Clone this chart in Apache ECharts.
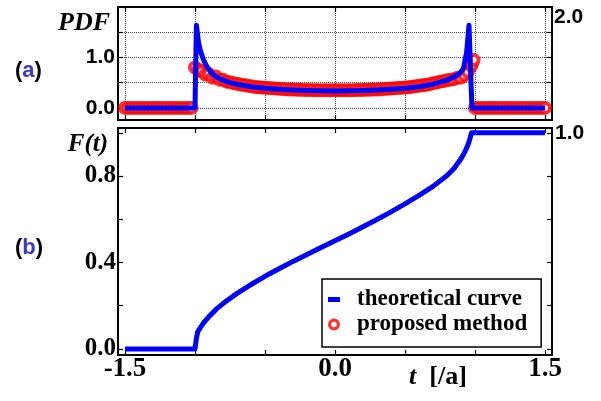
<!DOCTYPE html>
<html>
<head>
<meta charset="utf-8">
<script src="https://cdn.jsdelivr.net/npm/echarts@6/dist/echarts.min.js"></script>
<style>
  html, body { margin: 0; padding: 0; background: #fff; }
  #chart { width: 601px; height: 401px; }
</style>
</head>
<body>
<div id="chart"></div>
<script>
  // (a) theoretical PDF
  const pdfT = [-1.5, -1.0, -0.99, -0.975, -0.96, -0.94, -0.92, -0.9, -0.875, -0.85, -0.8, -0.75, -0.7, -0.6, -0.5, -0.4, -0.3, -0.2, -0.1, 0,
    0.1, 0.2, 0.3, 0.4, 0.5, 0.6, 0.7, 0.75, 0.8, 0.85, 0.893, 0.917, 0.94, 0.957, 0.978, 1.5];
  const pdfV = [0, 0, 1.64, 1.30, 1.12, 0.96, 0.84, 0.76, 0.67, 0.62, 0.55, 0.50, 0.47, 0.42, 0.39, 0.37, 0.355, 0.345, 0.34, 0.335,
    0.34, 0.345, 0.355, 0.37, 0.39, 0.42, 0.47, 0.51, 0.55, 0.61, 0.69, 0.78, 1.10, 1.64, 0, 0];

  // (a) proposed method points
  const estT = [-1.5, -1.475, -1.45, -1.425, -1.4, -1.375, -1.35, -1.325, -1.3, -1.275, -1.25, -1.225, -1.2, -1.175, -1.15, -1.125, -1.1, -1.075, -1.05, -1.025,
    -1.0, -0.975, -0.95, -0.925, -0.9, -0.875, -0.85, -0.825, -0.8, -0.775, -0.75, -0.725, -0.7, -0.675, -0.65, -0.625, -0.6, -0.575, -0.55, -0.525,
    -0.5, -0.475, -0.45, -0.425, -0.4, -0.375, -0.35, -0.325, -0.3, -0.275, -0.25, -0.225, -0.2, -0.175, -0.15, -0.125, -0.1, -0.075, -0.05, -0.025,
    0, 0.025, 0.05, 0.075, 0.1, 0.125, 0.15, 0.175, 0.2, 0.225, 0.25, 0.275, 0.3, 0.325, 0.35, 0.375, 0.4, 0.425, 0.45, 0.475,
    0.5, 0.525, 0.55, 0.575, 0.6, 0.625, 0.65, 0.675, 0.7, 0.725, 0.75, 0.775, 0.8, 0.825, 0.85, 0.875, 0.9, 0.925, 0.95, 0.975, 0.99,
    1.0, 1.025, 1.05, 1.075, 1.1, 1.125, 1.15, 1.175, 1.2, 1.225, 1.25, 1.275, 1.3, 1.325, 1.35, 1.375, 1.4, 1.425, 1.45, 1.475, 1.5];
  const estV = [0, 0, 0, 0, 0, 0, 0, 0, 0, 0, 0, 0, 0, 0, 0, 0, 0, 0, 0, 0,
    0.80, 0.75, 0.72, 0.66, 0.67, 0.60, 0.62, 0.56, 0.56, 0.52, 0.51, 0.49, 0.48, 0.465, 0.455, 0.44, 0.43, 0.42, 0.41, 0.405,
    0.40, 0.395, 0.39, 0.385, 0.38, 0.375, 0.37, 0.365, 0.365, 0.36, 0.36, 0.355, 0.355, 0.355, 0.35, 0.35, 0.35, 0.35, 0.35, 0.35,
    0.35, 0.35, 0.35, 0.35, 0.35, 0.35, 0.355, 0.355, 0.355, 0.36, 0.36, 0.365, 0.365, 0.37, 0.375, 0.38, 0.385, 0.39, 0.395, 0.40,
    0.405, 0.41, 0.42, 0.43, 0.44, 0.45, 0.46, 0.47, 0.49, 0.50, 0.52, 0.53, 0.55, 0.56, 0.57, 0.60, 0.60, 0.65, 0.72, 0.84, 0.95,
    0, 0, 0, 0, 0, 0, 0, 0, 0, 0, 0, 0, 0, 0, 0, 0, 0, 0, 0, 0, 0];

  // (b) F(t)
  const cdfT = [-1.5, -1.0, -0.99, -0.98, -0.96, -0.94, -0.9, -0.85, -0.8, -0.7, -0.6, -0.5, -0.4, -0.3, -0.2, -0.1, 0,
    0.1, 0.2, 0.3, 0.4, 0.5, 0.6, 0.7, 0.8, 0.85, 0.9, 0.93, 0.95, 0.965, 0.975, 1.5];
  const cdfV = [0, 0, 0.05, 0.08, 0.10, 0.12, 0.15, 0.183, 0.21, 0.257, 0.298, 0.336, 0.371, 0.405, 0.437, 0.469, 0.50,
    0.532, 0.565, 0.599, 0.634, 0.671, 0.710, 0.752, 0.802, 0.835, 0.88, 0.915, 0.945, 0.975, 1.0, 1.0];

  // ticks and labels
  const tTicks = [-1.5, -1.0, -0.5, 0, 0.5, 1.0, 1.5];
  const tLabels = [-1.5, 0, 1.5];
  const pdfTicks = [0, 0.5, 1.0, 1.5];
  const pdfLabels = [0, 1.0];
  const pdfRightLabels = [2.0];
  const cdfTicks = [0, 0.2, 0.4, 0.6, 0.8, 1.0];
  const cdfLabels = [0, 0.4, 0.8];
  const cdfRightLabels = [1.0];

  const zip = (a, b) => a.map((x, i) => [x, b[i]]);
  const fmt = v => Number(v).toFixed(1);
  const serif = '"Liberation Serif", "DejaVu Serif", serif';
  const sans = '"Liberation Sans", Arial, sans-serif';

  const tick = vals => ({ show: true, inside: true, length: 5, customValues: vals, lineStyle: { color: '#000', width: 1.2 } });
  const dotted = { show: true, lineStyle: { type: 'dotted', color: '#444', width: 1 } };
  const noLabel = { show: false };
  const noLine = { show: false, onZero: false };
  // ring icon for the legend
  const ringIcon = 'path://M6,0.5A5.5,5.5 0 1,1 6,11.5A5.5,5.5 0 1,1 6,0.5Z M6,3.5A2.5,2.5 0 1,0 6,8.5A2.5,2.5 0 1,0 6,3.5Z';

  let myChart = echarts.init(document.getElementById('chart'));
  myChart.setOption({
    animation: false,
    grid: [
      { left: 118, right: 49, top: 7, height: 113, outerBoundsMode: 'none', show: true, borderColor: '#000', borderWidth: 2, backgroundColor: 'transparent' },
      { left: 118, right: 49, top: 128, height: 227, outerBoundsMode: 'none', show: true, borderColor: '#000', borderWidth: 2, backgroundColor: 'transparent' }
    ],
    xAxis: [
      { gridIndex: 0, type: 'value', min: -1.55, max: 1.55, position: 'bottom', axisLine: noLine,
        axisTick: tick(tTicks), axisLabel: noLabel, splitLine: dotted },
      { gridIndex: 0, type: 'value', min: -1.55, max: 1.55, position: 'top', axisLine: noLine,
        axisTick: tick(tTicks), axisLabel: noLabel, splitLine: { show: false } },
      { gridIndex: 1, type: 'value', min: -1.55, max: 1.55, position: 'bottom', axisLine: noLine,
        axisTick: tick(tTicks), splitLine: { show: false },
        axisLabel: { customValues: tLabels, formatter: fmt, margin: 1, color: '#000', fontFamily: serif, fontWeight: 'bold', fontSize: 27 },
        name: '{i|t}  [/a]', nameLocation: 'middle', nameGap: 9, nameMoveOverlap: false,
        nameTextStyle: { color: '#000', fontFamily: serif, fontWeight: 'bold', fontSize: 26, padding: [0, 0, 0, 206],
          rich: { i: { fontFamily: serif, fontWeight: 'bold', fontStyle: 'italic', fontSize: 26, color: '#000' } } } },
      { gridIndex: 1, type: 'value', min: -1.55, max: 1.55, position: 'top', axisLine: noLine,
        axisTick: tick(tTicks), axisLabel: noLabel, splitLine: { show: false } }
    ],
    yAxis: [
      { gridIndex: 0, type: 'value', min: -0.24, max: 2.0, position: 'left', axisLine: noLine,
        axisTick: tick(pdfTicks), splitLine: dotted,
        axisLabel: { customValues: pdfLabels, formatter: fmt, margin: 3, color: '#000', fontFamily: sans, fontWeight: 'bold', fontSize: 21 },
        name: 'PDF', nameLocation: 'end', nameGap: -3, nameMoveOverlap: false,
        nameTextStyle: { color: '#000', fontFamily: serif, fontWeight: 'bold', fontStyle: 'italic', fontSize: 26, align: 'right', verticalAlign: 'top', padding: [0, 8, 0, 0] } },
      { gridIndex: 0, type: 'value', min: -0.24, max: 2.0, position: 'right', axisLine: noLine,
        axisTick: tick(pdfTicks), splitLine: { show: false },
        axisLabel: { customValues: pdfRightLabels, formatter: fmt, margin: 2, verticalAlign: 'top', color: '#000', fontFamily: sans, fontWeight: 'bold', fontSize: 21 } },
      { gridIndex: 1, type: 'value', min: -0.028, max: 1.022, position: 'left', axisLine: noLine,
        axisTick: tick(cdfTicks), splitLine: { show: false },
        axisLabel: { customValues: cdfLabels, formatter: fmt, margin: 2, color: '#000', fontFamily: serif, fontWeight: 'bold', fontSize: 25 },
        name: 'F(t)', nameLocation: 'end', nameGap: -4, nameMoveOverlap: false,
        nameTextStyle: { color: '#000', fontFamily: serif, fontWeight: 'bold', fontStyle: 'italic', fontSize: 25, align: 'right', verticalAlign: 'top', padding: [0, 10, 0, 0] } },
      { gridIndex: 1, type: 'value', min: -0.028, max: 1.022, position: 'right', axisLine: noLine,
        axisTick: tick(cdfTicks), splitLine: { show: false },
        axisLabel: { customValues: cdfRightLabels, formatter: fmt, margin: 3, color: '#000', fontFamily: sans, fontWeight: 'bold', fontSize: 21 } }
    ],
    legend: {
      orient: 'vertical', left: 322, top: 279, selectedMode: false,
      backgroundColor: '#fff', borderColor: '#000', borderWidth: 1.5, borderRadius: 0,
      padding: [9, 14, 11, 6], itemGap: 2, itemWidth: 12, itemHeight: 12,
      textStyle: { color: '#000', fontFamily: serif, fontWeight: 'bold', fontSize: 23, padding: [0, 0, 0, 12] },
      data: [
        { name: 'theoretical curve', icon: 'path://M0,0H12V5H0Z', itemStyle: { color: '#0000ff' } },
        { name: 'proposed method', icon: ringIcon, itemStyle: { color: '#ff0000', borderWidth: 0 } }
      ]
    },
    graphic: [
      { type: 'text', left: 15, top: 60, style: { text: '({b|a})', fill: '#000', font: 'bold 22px "Liberation Sans"',
        rich: { b: { fill: '#3b3bc4', font: 'bold 22px "Liberation Sans"' } } } },
      { type: 'text', left: 15, top: 237, style: { text: '({b|b})', fill: '#000', font: 'bold 22px "Liberation Sans"',
        rich: { b: { fill: '#3b3bc4', font: 'bold 22px "Liberation Sans"' } } } }
    ],
    series: [
      {
        name: 'proposed method', type: 'scatter', xAxisIndex: 0, yAxisIndex: 0,
        symbol: 'circle', symbolSize: 10,
        itemStyle: { color: '#ffffff', borderColor: '#ff0000', borderWidth: 4 },
        emphasis: { disabled: true },
        data: zip(estT, estV)
      },
      {
        name: 'theoretical curve', type: 'line', xAxisIndex: 0, yAxisIndex: 0,
        symbol: 'none', color: '#0000ff',
        lineStyle: { color: '#0000ff', width: 5, join: 'round' },
        data: zip(pdfT, pdfV)
      },
      {
        name: 'theoretical curve', type: 'line', xAxisIndex: 2, yAxisIndex: 2,
        symbol: 'none', color: '#0000ff',
        lineStyle: { color: '#0000ff', width: 5, join: 'round' },
        data: zip(cdfT, cdfV)
      }
    ]
  });
</script>
</body>
</html>
